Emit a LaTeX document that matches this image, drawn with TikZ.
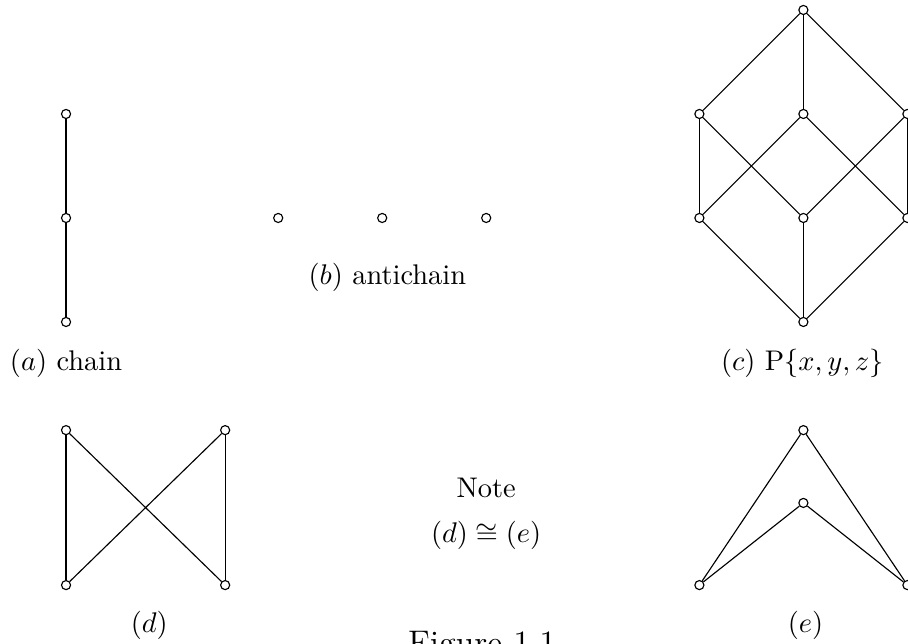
\documentclass[tikz,border=0pt]{standalone}
\usepackage{amsmath,amssymb}
\usetikzlibrary{positioning}

\begin{document}
\begin{tikzpicture}[x=1.286cm,y=1.286cm,elem/.style={circle,draw,fill=white,inner sep=0pt,minimum size=3.2pt,line width=0.4pt},lbl/.style={anchor=base,inner sep=0pt}]
\useasboundingbox (-0.635,-3.087) rectangle (8.096,3.096);
% (a) chain
\node[elem](a1) at (0,0){};\node[elem](a2) at (0,1){};\node[elem](a3) at (0,2){};
\draw(a1)--(a2);\draw(a2)--(a3);
\node[lbl](la) at (0,-0.47){$(a)$ chain};
% (b) antichain
\node[elem](b1) at (2.04,1){};\node[elem](b2) at (3.04,1){};\node[elem](b3) at (4.04,1){};
\node[lbl](lb) at (3.09,0.36){$(b)$ antichain};
% (c) powerset
\node[elem](c0) at (7.09,0){};
\node[elem](c1) at (6.09,1){};\node[elem](c2) at (7.09,1){};\node[elem](c3) at (8.09,1){};
\node[elem](c4) at (6.09,2){};\node[elem](c5) at (7.09,2){};\node[elem](c6) at (8.09,2){};
\node[elem](c7) at (7.09,3){};
\draw(c0)--(c1);\draw(c0)--(c2);\draw(c0)--(c3);
\draw(c1)--(c4);\draw(c1)--(c5);\draw(c2)--(c4);\draw(c2)--(c6);\draw(c3)--(c5);\draw(c3)--(c6);
\draw(c4)--(c7);\draw(c5)--(c7);\draw(c6)--(c7);
\node[lbl](lc) at (7.08,-0.47){$(c)$ $\mathrm{P}\{x,y,z\}$};
% (d)
\node[elem](d1) at (0,-1.04){};\node[elem](d2) at (1.53,-1.04){};
\node[elem](d3) at (0,-2.53){};\node[elem](d4) at (1.53,-2.53){};
\draw(d1)--(d3);\draw(d2)--(d4);\draw(d1)--(d4);\draw(d2)--(d3);
\node[lbl](ld) at (0.8,-2.99){$(d)$};
% (e)
\node[elem](e1) at (7.09,-1.04){};\node[elem](e2) at (7.09,-1.74){};
\node[elem](e3) at (6.09,-2.53){};\node[elem](e4) at (8.09,-2.53){};
\draw(e1)--(e3);\draw(e1)--(e4);\draw(e2)--(e3);\draw(e2)--(e4);
\node[lbl](le) at (7.11,-2.99){$(e)$};
% note
\node[lbl](note) at (4.04,-1.69){Note};
\node[lbl](iso) at (4.04,-2.12){$(d)\cong(e)$};
\node[lbl,font=\large](fig) at (4.0,-3.20){Figure 1.1};
\end{tikzpicture}
\end{document}
